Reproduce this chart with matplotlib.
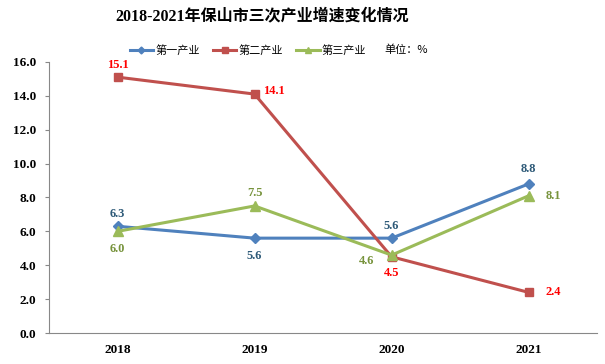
import matplotlib
matplotlib.use("Agg")
import matplotlib.pyplot as plt

years = ["2018", "2019", "2020", "2021"]
primary = [6.3, 5.6, 5.6, 8.8]
secondary = [15.1, 14.1, 4.5, 2.4]
tertiary = [6.0, 7.5, 4.6, 8.1]
names = ["第一产业", "第二产业", "第三产业"]

serif = ["Liberation Serif", "Noto Sans CJK SC"]
sans = ["Noto Sans CJK SC", "DejaVu Sans"]

fig = plt.figure(figsize=(6.05, 3.64), dpi=100)
ax = fig.add_axes([0.081, 0.085, 0.906, 0.745])

x = range(len(years))
l1, = ax.plot(x, primary, color="#4F81BD", lw=2.2, marker="D", ms=5, label=names[0])
l2, = ax.plot(x, secondary, color="#C0504D", lw=2.2, marker="s", ms=6, label=names[1])
l3, = ax.plot(x, tertiary, color="#9BBB59", lw=2.2, marker="^", ms=6.5, label=names[2])

# data labels: (offset x, offset y) in points
off1 = [(0, 9), (0, -13), (0, 9), (0, 11)]
off2 = [(0, 9), (14, 2), (0, -12), (18, 0)]
off3 = [(0, -13), (0, 9), (-18, -4), (18, 0)]
for vals, offs, col in [(primary, off1, "#2E5A78"), (secondary, off2, "#FF0000"),
                        (tertiary, off3, "#77933C")]:
    for i, (v, o) in enumerate(zip(vals, offs)):
        ax.annotate(f"{v:.1f}", (i, v), xytext=o, textcoords="offset points",
                    ha="center", va="center", color=col, fontsize=9,
                    fontweight="bold", family=serif)

ax.set_xlim(-0.5, 3.5)
ax.set_ylim(0, 16)
ax.set_yticks([0, 2, 4, 6, 8, 10, 12, 14, 16])
ax.set_yticklabels([f"{t:.1f}" for t in ax.get_yticks()], family=serif,
                   fontweight="bold", fontsize=9.5)
ax.set_xticks(list(x))
ax.set_xticklabels(years, family=serif, fontweight="bold", fontsize=9.5)
ax.tick_params(axis="x", length=0, pad=8)
ax.tick_params(axis="y", length=3, color="#888888", pad=6)
for s in ["top", "right"]:
    ax.spines[s].set_visible(False)
for s in ["left", "bottom"]:
    ax.spines[s].set_color("#888888")

fig.text(0.433, 0.955, "2018-2021年保山市三次产业增速变化情况", ha="center", va="center",
         fontsize=11.5, fontweight="bold", family=serif)
fig.legend(handles=[l1, l2, l3], loc="center", bbox_to_anchor=(0.41, 0.862), ncol=3,
           frameon=False, prop={"family": sans, "size": 8}, handlelength=2.1,
           columnspacing=1.2, handletextpad=0.2, markerscale=0.7)
fig.text(0.636, 0.862, "单位：%", ha="left", va="center", fontsize=8, family=sans)

fig.savefig("out.png", dpi=100)
